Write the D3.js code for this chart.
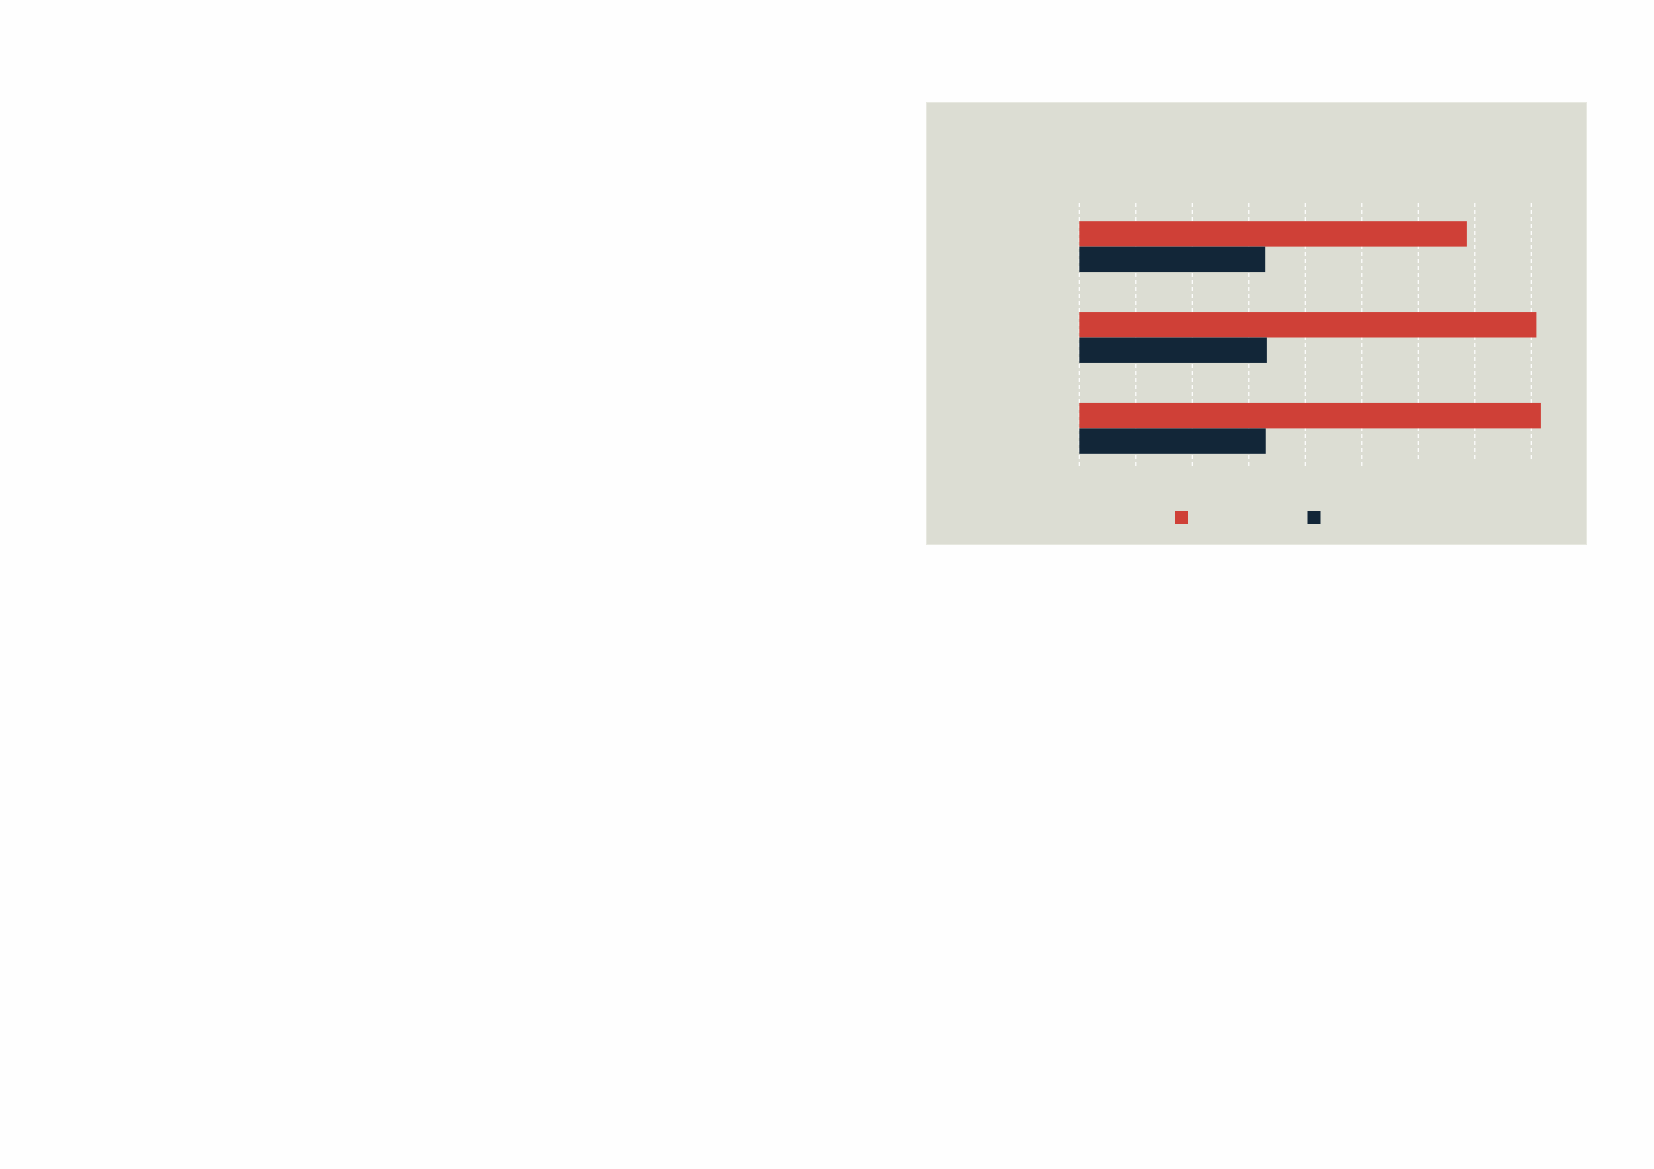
<!DOCTYPE html>
<html>
<head>
<meta charset="utf-8">
<script src="https://cdn.jsdelivr.net/npm/d3@7"></script>
<style>
  html, body { margin: 0; padding: 0; background: #fefefe; }
  svg { display: block; }
</style>
</head>
<body>
<div id="chart"></div>
<script>
// data (no labels are shown in it)
var categories = ["A", "B", "C"];
var seriesNames = ["series1", "series2"];
var series1 = [68.6, 80.9, 81.7];
var series2 = [32.9, 33.2, 33.0];
var xTicks = [0, 10, 20, 30, 40, 50, 60, 70, 80];

var width = 1654, height = 1169;
var fills = ["#cf4037", "#122638"];

var panel = { x: 926.5, y: 102.5, w: 660, h: 442 };
var plot = { left: 1079.3, right: 1531.3, top: 203, bottom: 466 };

var svg = d3.select("#chart").append("svg")
  .attr("width", width)
  .attr("height", height)
  .attr("viewBox", "0 0 " + width + " " + height);

svg.append("rect")
  .attr("width", width)
  .attr("height", height)
  .attr("fill", "#fefefe");

svg.append("rect")
  .attr("x", panel.x)
  .attr("y", panel.y)
  .attr("width", panel.w)
  .attr("height", panel.h)
  .attr("fill", "#dcddd3")
  .attr("stroke", "#e7e8e0")
  .attr("stroke-width", 1);

var x = d3.scaleLinear()
  .domain([0, 80])
  .range([plot.left, plot.right]);

var y = d3.scaleBand()
  .domain(categories)
  .range([203, 472])
  .paddingInner(0.44)
  .paddingOuter(0.2);

var ySub = d3.scaleBand()
  .domain(seriesNames)
  .range([0, y.bandwidth()]);

// dashed grid lines
svg.append("g")
  .attr("class", "grid")
  .selectAll("line")
  .data(xTicks)
  .enter()
  .append("line")
  .attr("x1", d => x(d))
  .attr("x2", d => x(d))
  .attr("y1", plot.top)
  .attr("y2", (d, i) => i < 6 ? plot.bottom : plot.bottom - 7)
  .attr("stroke", "#ffffff")
  .attr("stroke-width", 1.2)
  .attr("stroke-dasharray", "4,3");

var rows = categories.map((c, i) => ({ cat: c, values: [series1[i], series2[i]] }));

var groups = svg.selectAll(".group")
  .data(rows)
  .enter()
  .append("g")
  .attr("class", "group")
  .attr("transform", d => `translate(0, ${y(d.cat)})`);

groups.selectAll("rect")
  .data(d => d.values.map((v, j) => ({ name: seriesNames[j], value: v, idx: j })))
  .enter()
  .append("rect")
  .attr("x", x(0))
  .attr("y", d => ySub(d.name))
  .attr("width", d => x(d.value) - x(0))
  .attr("height", ySub.bandwidth())
  .attr("fill", d => fills[d.idx]);

// legend swatches
var legendX = [1175, 1307.5];
var legend = svg.append("g").attr("class", "legend");
seriesNames.forEach((name, i) => {
  legend.append("rect")
    .attr("x", legendX[i])
    .attr("y", 511)
    .attr("width", 13)
    .attr("height", 13)
    .attr("fill", fills[i]);
});
</script>
</body>
</html>
